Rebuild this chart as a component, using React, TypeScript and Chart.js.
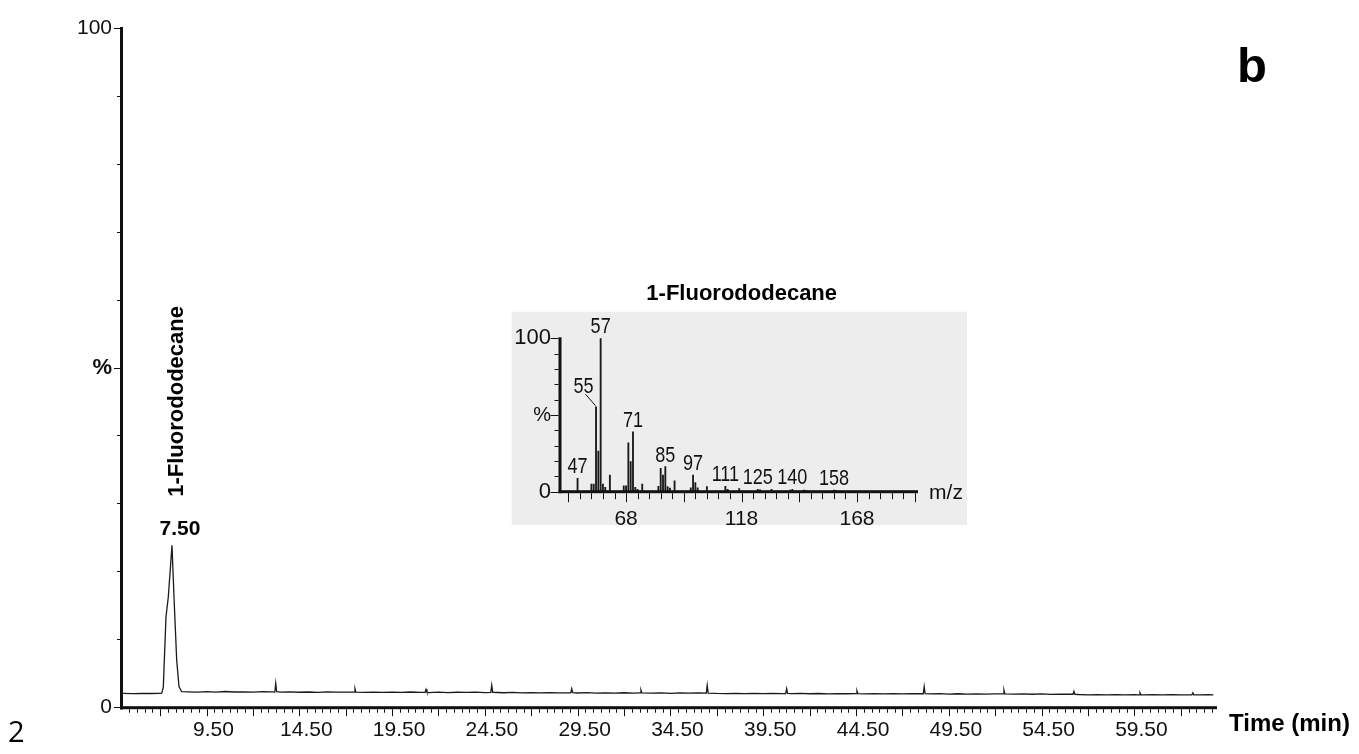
import React, { useEffect, useRef } from "react";
import { Chart, registerables } from "chart.js";

Chart.register(...registerables);

const FONT = "'Liberation Sans', Arial, Helvetica, sans-serif";

// ---- Chromatogram: [retention time (min), relative intensity (%)] ----
const chromatogramPoints: [number, number][] = [
  [5.0, 2.0], [5.5, 1.98], [6.0, 2.01], [6.5, 1.99], [7.0, 2.02], [7.085, 2.03],
  [7.171, 2.9], [7.317, 13.3], [7.441, 16.2], [7.64, 23.8], [7.748, 16.2], [7.893, 6.9],
  [8.017, 3.0], [8.163, 2.25], [8.5, 2.22], [9.0, 2.18], [9.5, 2.25], [10.0, 2.2],
  [10.5, 2.28], [11.0, 2.21], [11.5, 2.24], [12.0, 2.19], [12.5, 2.26], [13.0, 2.22],
  [13.18, 2.2], [13.23, 3.5], [13.28, 2.25], [13.5, 2.18], [14.0, 2.23], [14.5, 2.17],
  [15.0, 2.21], [15.5, 2.16], [16.0, 2.22], [16.5, 2.18], [17.0, 2.2], [17.45, 2.2],
  [17.5, 2.7], [17.55, 2.18], [18.0, 2.15], [18.5, 2.2], [19.0, 2.14], [19.5, 2.19],
  [20.0, 2.16], [20.5, 2.21], [21.0, 2.15], [21.28, 2.17], [21.33, 2.6], [21.38, 2.16],
  [21.5, 2.13], [22.0, 2.18], [22.5, 2.12], [23.0, 2.17], [23.5, 2.14], [24.0, 2.19],
  [24.5, 2.13], [24.82, 2.15], [24.87, 3.2], [24.92, 2.17], [25.5, 2.1], [26.0, 2.15],
  [26.5, 2.08], [27.0, 2.13], [27.5, 2.09], [28.0, 2.12], [28.5, 2.07], [29.13, 2.1],
  [29.18, 2.7], [29.23, 2.1], [29.5, 2.06], [30.0, 2.11], [30.5, 2.05], [31.0, 2.09],
  [31.5, 2.04], [32.0, 2.1], [32.5, 2.05], [32.86, 2.08], [32.91, 2.5], [32.96, 2.07],
  [33.5, 2.03], [34.0, 2.08], [34.5, 2.02], [35.0, 2.07], [35.5, 2.03], [36.0, 2.06],
  [36.43, 2.04], [36.48, 3.2], [36.53, 2.05], [37.0, 2.0], [37.5, 1.98], [38.0, 2.02],
  [38.5, 1.97], [39.0, 2.01], [39.5, 1.96], [40.0, 2.0], [40.5, 1.97], [40.71, 1.98],
  [40.76, 2.7], [40.81, 1.99], [41.0, 1.96], [41.5, 2.0], [42.0, 1.95], [42.5, 1.99],
  [43.0, 1.94], [43.5, 1.98], [44.0, 1.95], [44.5, 1.97], [44.55, 2.4], [44.6, 1.96],
  [45.0, 1.93], [45.5, 1.97], [46.0, 1.94], [46.5, 1.98], [47.0, 1.93], [47.5, 1.96],
  [48.12, 1.95], [48.17, 3.0], [48.22, 1.96], [48.5, 1.93], [49.0, 1.96], [49.5, 1.91],
  [50.0, 1.95], [50.5, 1.9], [51.0, 1.94], [51.5, 1.9], [52.0, 1.93], [52.42, 1.92],
  [52.47, 2.5], [52.52, 1.93], [53.0, 1.89], [53.5, 1.93], [54.0, 1.88], [54.5, 1.92],
  [55.0, 1.87], [55.5, 1.91], [56.19, 1.88], [56.24, 2.3], [56.29, 1.87], [56.5, 1.84],
  [57.0, 1.8], [57.5, 1.83], [58.0, 1.79], [58.5, 1.82], [59.0, 1.78], [59.5, 1.81],
  [59.75, 1.8], [59.8, 2.1], [59.85, 1.8], [60.0, 1.78], [60.5, 1.82], [61.0, 1.79],
  [61.5, 1.83], [62.0, 1.8], [62.6, 1.8], [62.65, 2.1], [62.7, 1.8], [63.0, 1.79],
  [63.5, 1.81], [63.75, 1.8],
];

const peakRetention = 7.64;
const peakApex = 23.8;
const peakLabel = "7.50";
const compoundName = "1-Fluorododecane";

const timeRange = [5.0, 63.95];
const timeTickLabels = ["9.50", "14.50", "19.50", "24.50", "29.50", "34.50", "39.50", "44.50", "49.50", "54.50", "59.50"];
const intensityTickValues = [0, 50, 100];
const intensityTickLabels = ["0", "%", "100"];

// ---- Mass spectrum (inset) ----
const massToCharge = [47, 53, 54, 55, 56, 57, 58, 59, 61, 67, 68, 69, 70, 71, 72, 73, 75, 82, 83, 84, 85, 86, 87, 89, 96, 97, 98, 99, 103, 111, 112, 117, 125, 126, 131, 139, 140, 145, 146, 158, 159];
const ionAbundance = [8.7, 5.0, 5.0, 55.4, 26.5, 100, 5.0, 2.8, 10.9, 3.9, 3.9, 31.9, 19.6, 39.1, 2.8, 1.5, 5.0, 3.5, 15.3, 10.9, 16.3, 3.3, 2.4, 7.1, 2.5, 10.9, 5.9, 2.5, 3.3, 3.5, 1.5, 2.0, 1.5, 1.2, 1.5, 1.0, 1.5, 1.0, 0.8, 1.0, 0.8];
const labelledIons = [57, 55, 71, 47, 85, 97, 111, 125, 140, 158];
const mzRange = [39.4, 194.4];
const mzTickLabels = ["68", "118", "168"];
const abundanceTickValues = [0, 50, 100];
const abundanceTickLabels = ["0", "%", "100"];

const mainDecor = {
  id: "mainDecor",
  afterDraw(chart: any) {
    const { ctx, chartArea: a } = chart;
    const xs = chart.scales.x;
    const ys = chart.scales.y;
    ctx.save();
    ctx.fillStyle = "#111";
    // axis lines
    ctx.fillRect(a.left - 3, a.top - 1, 3, a.bottom - a.top + 3.5);
    ctx.fillRect(a.left - 3, a.bottom - 0.8, a.right - a.left + 3, 3);
    // x ticks
    const step = 2.5 / 6;
    for (let k = -6; k < 200; k++) {
      const v = 7 + k * step;
      if (v > xs.max + 1e-9) break;
      if (v < xs.min - 1e-9) continue;
      const major = k % 6 === 0;
      const px = Math.round(xs.getPixelForValue(v));
      ctx.fillRect(px, a.bottom + 2.2, 1, major ? 7 : 3.5);
    }
    // y ticks
    for (let v = 0; v <= 100; v += 10) {
      const py = Math.round(ys.getPixelForValue(v));
      const len = v % 50 === 0 ? 6 : 3;
      ctx.fillRect(a.left - 3 - len, py, len, 1);
    }
    // annotations
    const px = xs.getPixelForValue(peakRetention);
    const py = ys.getPixelForValue(peakApex);
    ctx.fillStyle = "#000";
    ctx.textAlign = "center";
    ctx.textBaseline = "middle";
    ctx.font = `bold 21px ${FONT}`;
    ctx.fillText(peakLabel, px + 8, py - 16);
    ctx.save();
    ctx.translate(px + 5, py - 144);
    ctx.rotate(-Math.PI / 2);
    ctx.font = `bold 22px ${FONT}`;
    ctx.fillText(compoundName, 0, 0);
    ctx.restore();
    ctx.textAlign = "left";
    ctx.textBaseline = "alphabetic";
    ctx.font = `bold 24px ${FONT}`;
    ctx.fillText("Time (min)", a.right + 12, 730.5);
    ctx.font = `bold 49px ${FONT}`;
    ctx.fillText("b", 1237, 81.7);
    ctx.font = `29px 'Open Sans', ${FONT}`;
    ctx.fillText("2", 8, 742);
    ctx.restore();
  },
};

const insetDecor = {
  id: "insetDecor",
  beforeDraw(chart: any) {
    const { ctx } = chart;
    ctx.save();
    ctx.fillStyle = "#ededed";
    ctx.fillRect(6.7, 31.7, 455.3, 213.3);
    ctx.fillStyle = "#000";
    ctx.font = `bold 22px ${FONT}`;
    ctx.textAlign = "center";
    ctx.textBaseline = "middle";
    ctx.fillText(compoundName, 236.7, 14);
    ctx.restore();
  },
  afterDraw(chart: any) {
    const { ctx, chartArea: a } = chart;
    const xs = chart.scales.x;
    const ys = chart.scales.y;
    ctx.save();
    ctx.fillStyle = "#111";
    ctx.fillRect(a.left - 1.5, a.top - 1, 3, a.bottom - a.top + 2.5);
    ctx.fillRect(a.left - 1.5, a.bottom - 1.5, a.right - a.left + 1.5, 3);
    for (let v = 43; v <= xs.max; v += 5) {
      const px = Math.round(xs.getPixelForValue(v));
      const major = (v - 43) % 25 === 0;
      ctx.fillRect(px, a.bottom + 1.5, 1, major ? 9 : 6);
    }
    for (let v = 0; v <= 100; v += 10) {
      const py = Math.round(ys.getPixelForValue(v));
      const len = v % 50 === 0 ? 8 : 4;
      ctx.fillRect(a.left - 1.5 - len, py, len, 1);
    }
    // peak labels (condensed)
    ctx.fillStyle = "#111";
    ctx.font = `22px ${FONT}`;
    ctx.textAlign = "center";
    ctx.textBaseline = "alphabetic";
    for (const mz of labelledIons) {
      const idx = massToCharge.indexOf(mz);
      const bx = xs.getPixelForValue(mz);
      const by = ys.getPixelForValue(ionAbundance[idx]);
      let lx = bx;
      let ly = by - 5;
      if (mz === 55) {
        lx = bx - 12.5;
        ly = by - 13.5;
        ctx.save();
        ctx.strokeStyle = "#111";
        ctx.lineWidth = 1;
        ctx.beginPath();
        ctx.moveTo(lx + 2, ly + 1);
        ctx.lineTo(bx - 0.5, by - 1);
        ctx.stroke();
        ctx.restore();
      }
      ctx.save();
      ctx.translate(lx, ly);
      ctx.scale(0.82, 1);
      ctx.fillText(String(mz), 0, 0);
      ctx.restore();
    }
    ctx.textBaseline = "middle";
    ctx.font = `21px ${FONT}`;
    ctx.fillText("m/z", 441, 213);
    ctx.restore();
  },
};

export default function App() {
  const mainRef = useRef<HTMLCanvasElement>(null);
  const insetRef = useRef<HTMLCanvasElement>(null);

  useEffect(() => {
    const timeTickValues = timeTickLabels.map((t) => parseFloat(t));
    const main = new Chart(mainRef.current as HTMLCanvasElement, {
      type: "line",
      data: {
        datasets: [
          {
            data: chromatogramPoints.map(([t, v]) => ({ x: t, y: v })),
            borderColor: "#1a1a1a",
            borderWidth: 1.3,
            pointRadius: 0,
            tension: 0,
            fill: false,
          },
        ],
      },
      options: {
        animation: false,
        responsive: false,
        maintainAspectRatio: false,
        layout: { padding: { top: 28, right: 142, left: 0, bottom: 0 } },
        plugins: { legend: { display: false }, tooltip: { enabled: false }, title: { display: false } },
        scales: {
          x: {
            type: "linear",
            min: timeRange[0],
            max: timeRange[1],
            afterBuildTicks: (s: any) => {
              s.ticks = timeTickValues.map((v) => ({ value: v }));
            },
            afterFit: (s: any) => {
              s.height = 47;
            },
            grid: { display: false, drawTicks: false },
            border: { display: false },
            ticks: {
              autoSkip: false,
              maxRotation: 0,
              padding: 11,
              labelOffset: 7,
              color: "#111",
              font: { family: FONT, size: 21 },
              callback: (v: any) => {
                const i = timeTickValues.findIndex((t) => Math.abs(t - v) < 1e-6);
                return i >= 0 ? timeTickLabels[i] : "";
              },
            },
          },
          y: {
            type: "linear",
            min: 0,
            max: 100,
            afterBuildTicks: (s: any) => {
              s.ticks = intensityTickValues.map((v) => ({ value: v }));
            },
            afterFit: (s: any) => {
              s.width = 123;
            },
            grid: { display: false, drawTicks: false },
            border: { display: false },
            ticks: {
              autoSkip: false,
              padding: 11,
              color: "#111",
              font: (c: any) =>
                c.tick && c.tick.value === 50
                  ? { family: FONT, size: 22, weight: "bold" }
                  : { family: FONT, size: 21 },
              callback: (v: any) => {
                const i = intensityTickValues.indexOf(v);
                return i >= 0 ? intensityTickLabels[i] : "";
              },
            },
          },
        },
      } as any,
      plugins: [mainDecor],
    });

    const mzTickValues = mzTickLabels.map((t) => parseFloat(t));
    const inset = new Chart(insetRef.current as HTMLCanvasElement, {
      type: "bar",
      data: {
        datasets: [
          {
            data: massToCharge.map((m, i) => ({ x: m, y: ionAbundance[i] })),
            backgroundColor: "#1a1a1a",
            borderWidth: 0,
            barThickness: 1.2,
          },
        ],
      },
      options: {
        animation: false,
        responsive: false,
        maintainAspectRatio: false,
        layout: { padding: { top: 58.3, right: 57, left: 0, bottom: 0 } },
        plugins: { legend: { display: false }, tooltip: { enabled: false } },
        scales: {
          x: {
            type: "linear",
            min: mzRange[0],
            max: mzRange[1],
            offset: false,
            afterBuildTicks: (s: any) => {
              s.ticks = mzTickValues.map((v) => ({ value: v }));
            },
            afterFit: (s: any) => {
              s.height = 38.3;
            },
            grid: { display: false, drawTicks: false, offset: false },
            border: { display: false },
            ticks: {
              autoSkip: false,
              maxRotation: 0,
              padding: 15,
              color: "#111",
              font: { family: FONT, size: 21 },
              callback: (v: any) => {
                const i = mzTickValues.indexOf(v);
                return i >= 0 ? mzTickLabels[i] : "";
              },
            },
          },
          y: {
            type: "linear",
            min: 0,
            max: 100,
            afterBuildTicks: (s: any) => {
              s.ticks = abundanceTickValues.map((v) => ({ value: v }));
            },
            afterFit: (s: any) => {
              s.width = 55;
            },
            grid: { display: false, drawTicks: false },
            border: { display: false },
            ticks: {
              autoSkip: false,
              padding: 9,
              color: "#111",
              font: (c: any) =>
                c.tick && c.tick.value === 50 ? { family: FONT, size: 20 } : { family: FONT, size: 22 },
              callback: (v: any) => {
                const i = abundanceTickValues.indexOf(v);
                return i >= 0 ? abundanceTickLabels[i] : "";
              },
            },
          },
        },
      } as any,
      plugins: [insetDecor],
    });

    return () => {
      main.destroy();
      inset.destroy();
    };
  }, []);

  return (
    <div style={{ position: "absolute", left: 0, top: 0, width: 1359, height: 754, background: "#fff", overflow: "hidden" }}>
      <canvas ref={mainRef} width={1359} height={754} style={{ position: "absolute", left: 0, top: 0, width: 1359, height: 754 }} />
      <canvas ref={insetRef} width={470} height={250} style={{ position: "absolute", left: 505, top: 280, width: 470, height: 250 }} />
    </div>
  );
}
